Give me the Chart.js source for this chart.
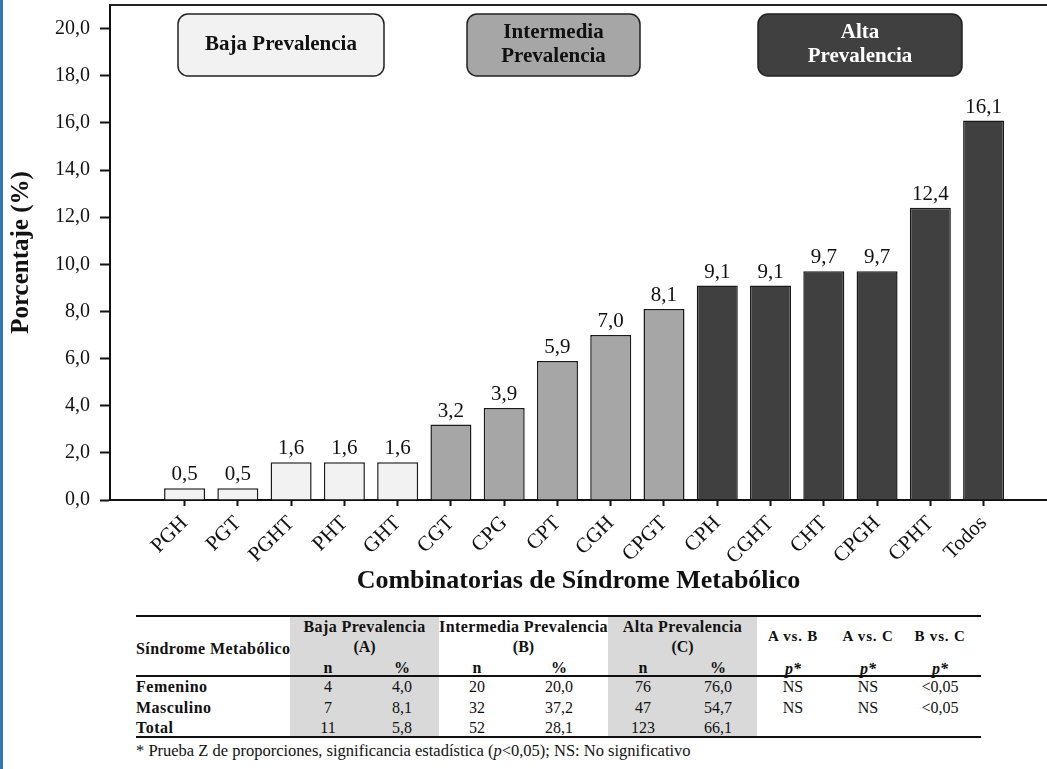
<!DOCTYPE html>
<html>
<head>
<meta charset="utf-8">
<script src="https://cdn.jsdelivr.net/npm/chart.js@4"></script>
<style>
  body { margin: 0; width: 1047px; height: 769px; overflow: hidden; position: relative; background: #fff;
         font-family: "Liberation Serif", "Times New Roman", serif; color: #111; }
  #wrap { position: absolute; left: 0; top: 0; }
  .edge { position: absolute; left: 0; top: 0; width: 3px; height: 769px; background: #2f78bd; }
  .c { position: absolute; white-space: nowrap; line-height: 18px; }
  .shade { position: absolute; background: #d9d9d9; }
  .rule { position: absolute; background: #111; height: 2px; }
</style>
</head>
<body>
<div id="wrap"><canvas id="chart" width="1047" height="605"></canvas></div>
<div id="tbl"></div>
<div class="edge"></div>
<script>
// chart data
const categories = ["PGH", "PGT", "PGHT", "PHT", "GHT", "CGT", "CPG", "CPT", "CGH", "CPGT",
                    "CPH", "CGHT", "CHT", "CPGH", "CPHT", "Todos"];
const prevalence = [0.5, 0.5, 1.6, 1.6, 1.6, 3.2, 3.9, 5.9, 7.0, 8.1, 9.1, 9.1, 9.7, 9.7, 12.4, 16.1];
const level = [0, 0, 0, 0, 0, 1, 1, 1, 1, 1, 2, 2, 2, 2, 2, 2];
const levelNames = [["Baja Prevalencia"], ["Intermedia", "Prevalencia"], ["Alta", "Prevalencia"]];
const yTicks = [0, 2, 4, 6, 8, 10, 12, 14, 16, 18, 20];

// table data
const rowLabels = ["Femenino", "Masculino", "Total"];
const bajaN = ["4", "7", "11"];
const bajaPct = ["4,0", "8,1", "5,8"];
const interN = ["20", "32", "52"];
const interPct = ["20,0", "37,2", "28,1"];
const altaN = ["76", "47", "123"];
const altaPct = ["76,0", "54,7", "66,1"];
const pAB = ["NS", "NS", ""];
const pAC = ["NS", "NS", ""];
const pBC = ["<0,05", "<0,05", ""];

const levelFill = ["#f2f2f2", "#a6a6a6", "#404040"];
const levelText = ["#111", "#111", "#fff"];
const comma = v => v.toFixed(1).replace(".", ",");
const serif = "'Liberation Serif', 'Times New Roman', serif";

Chart.defaults.font.family = serif;
Chart.defaults.color = "#111";

// value labels over the bars
const valueLabels = {
  id: "valueLabels",
  afterDatasetsDraw(chart) {
    const ctx = chart.ctx;
    ctx.save();
    ctx.font = "21px " + serif;
    ctx.fillStyle = "#111";
    ctx.textAlign = "center";
    ctx.textBaseline = "bottom";
    chart.getDatasetMeta(0).data.forEach((bar, i) => {
      ctx.fillText(comma(prevalence[i]), bar.x, bar.y - 3);
    });
    ctx.restore();
  }
};

// top frame line + the three group boxes
const frameAndBoxes = {
  id: "frameAndBoxes",
  afterDraw(chart) {
    const { ctx, chartArea: a } = chart;
    ctx.save();
    ctx.strokeStyle = "#222";
    ctx.lineWidth = 2;
    ctx.beginPath();
    ctx.moveTo(a.left, a.top);
    ctx.lineTo(a.right, a.top);
    ctx.stroke();

    const boxes = [
      { x: 178, w: 206 },
      { x: 467, w: 173 },
      { x: 758, w: 204 }
    ];
    boxes.forEach((b, i) => {
      const y = a.top + 9, h = 62;
      ctx.beginPath();
      ctx.roundRect(b.x, y, b.w, h, 10);
      ctx.fillStyle = levelFill[i];
      ctx.fill();
      ctx.lineWidth = 1.5;
      ctx.strokeStyle = "#222";
      ctx.stroke();
      ctx.fillStyle = levelText[i];
      ctx.font = "bold 21px " + serif;
      ctx.textAlign = "center";
      ctx.textBaseline = "middle";
      const lines = levelNames[i];
      const cy = y + h / 2;
      lines.forEach((t, k) => {
        ctx.fillText(t, b.x + b.w / 2, cy + (k - (lines.length - 1) / 2) * 24);
      });
    });
    ctx.restore();
  }
};

new Chart(document.getElementById("chart"), {
  type: "bar",
  data: {
    datasets: [{
      data: prevalence.map((v, i) => ({ x: i, y: v })),
      backgroundColor: level.map(l => levelFill[l]),
      borderColor: "#1a1a1a",
      borderWidth: 1.5,
      categoryPercentage: 1,
      barPercentage: 0.77
    }]
  },
  plugins: [valueLabels, frameAndBoxes],
  options: {
    responsive: false,
    animation: false,
    layout: { padding: { top: 5, right: 0, left: 0, bottom: 0 } },
    plugins: { legend: { display: false }, tooltip: { enabled: false } },
    scales: {
      x: {
        type: "linear",
        min: -1.4,
        max: 16.19,
        offset: false,
        afterBuildTicks: s => { s.ticks = categories.map((_, i) => ({ value: i })); },
        afterFit: s => { s.height = 105; s.paddingLeft = 0; s.paddingRight = 0; },
        ticks: {
          autoSkip: false,
          minRotation: 45,
          maxRotation: 45,
          padding: 5,
          font: { size: 21 },
          callback: v => categories[v]
        },
        grid: { drawOnChartArea: false, offset: false, tickLength: 6, tickColor: "#111", tickWidth: 2 },
        border: { color: "#111", width: 2 },
        title: {
          display: true,
          text: "Combinatorias de Síndrome Metabólico",
          font: { size: 26, weight: "bold" },
          padding: { bottom: 8 }
        }
      },
      y: {
        min: 0,
        max: 21,
        afterBuildTicks: s => { s.ticks = yTicks.map(v => ({ value: v })); },
        afterFit: s => { s.width = 110; s.paddingTop = 0; s.paddingBottom = 0; },
        ticks: {
          padding: 10,
          font: { size: 20 },
          callback: v => comma(v)
        },
        grid: { drawOnChartArea: false, tickLength: 10, tickColor: "#111", tickWidth: 2 },
        border: { color: "#111", width: 2 },
        title: {
          display: true,
          text: "Porcentaje (%)",
          font: { size: 25, weight: "bold" },
          padding: { top: 7 }
        }
      }
    }
  }
});

// table under the chart
const tbl = document.getElementById("tbl");
function add(cls, style, html) {
  const d = document.createElement("div");
  d.className = cls;
  Object.assign(d.style, style);
  if (html !== undefined) d.innerHTML = html;
  tbl.appendChild(d);
  return d;
}
function cell(html, cx, cy, font, align, spacing) {
  const st = { top: (cy - 9) + "px", font: font };
  if (spacing) st.letterSpacing = spacing;
  if (align === "left") { st.left = cx + "px"; }
  else { st.left = (cx - 100) + "px"; st.width = "200px"; st.textAlign = "center"; }
  add("c", st, html);
}
const esc = s => s.replace(/</g, "&lt;");

add("shade", { left: "290px", top: "617px", width: "149px", height: "120px" });
add("shade", { left: "608px", top: "617px", width: "149px", height: "120px" });
add("rule", { left: "136px", top: "615px", width: "845px" });
add("rule", { left: "136px", top: "675px", width: "845px" });
add("rule", { left: "136px", top: "736px", width: "845px" });

const hb = "bold 16px " + serif;
const nb = "16px " + serif;
cell("Síndrome Metabólico", 136, 649, hb, "left", "0.4px");
[["Baja Prevalencia", "(A)", 364.5], ["Intermedia Prevalencia", "(B)", 523.5], ["Alta Prevalencia", "(C)", 682.5]]
  .forEach(([t, s, cx]) => {
    cell(t, cx, 627, hb, null, "0.4px");
    cell(s, cx, 647, hb);
  });
[["A vs. B", 793], ["A vs. C", 868], ["B vs. C", 940]].forEach(([t, cx]) => {
  cell(t, cx, 637, "bold 15px " + serif, null, "0.8px");
  cell("<i>p*</i>", cx, 669, hb);
});
[[328, "n"], [402, "%"], [477, "n"], [559, "%"], [643, "n"], [718, "%"]].forEach(([cx, t]) => cell(t, cx, 668, hb));

const cols = [[bajaN, 328], [bajaPct, 402], [interN, 477], [interPct, 559], [altaN, 643], [altaPct, 718],
              [pAB, 793], [pAC, 868], [pBC, 940]];
const rowY = [687, 708, 728];
rowLabels.forEach((lab, r) => {
  cell(lab, 136, rowY[r], "bold 16px " + serif, "left", "0.5px");
  cols.forEach(([arr, cx]) => cell(esc(arr[r]), cx, rowY[r], nb));
});
cell("* Prueba Z de proporciones, significancia estadística (<i>p</i>&lt;0,05); NS: No significativo",
     136, 750, "16.5px " + serif, "left");
</script>
</body>
</html>
